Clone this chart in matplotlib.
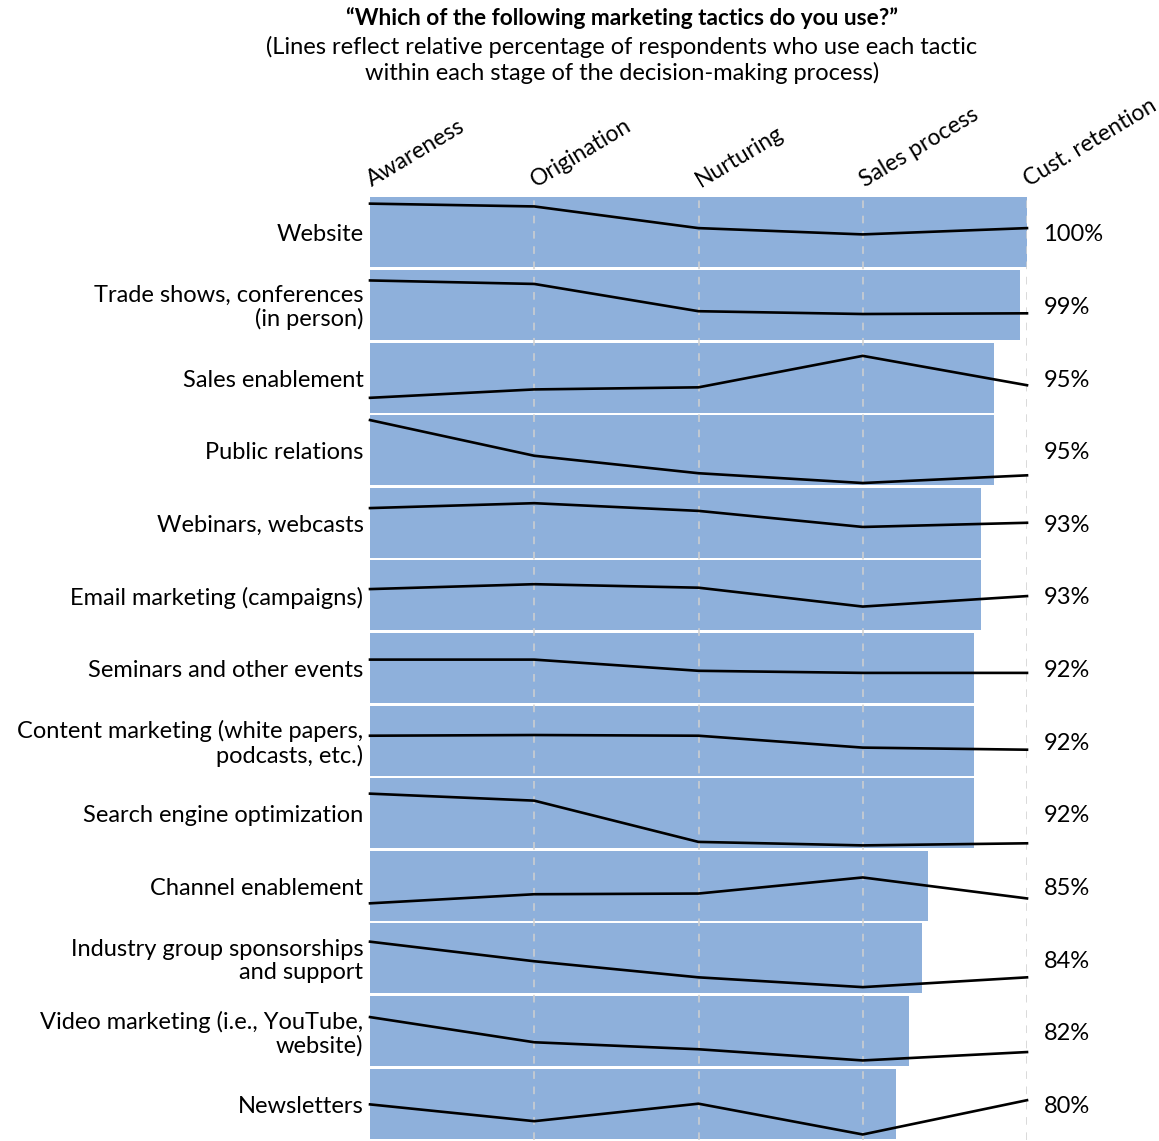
import matplotlib.pyplot as plt

tactics = ["Website",
           "Trade shows, conferences\n(in person)",
           "Sales enablement",
           "Public relations",
           "Webinars, webcasts",
           "Email marketing (campaigns)",
           "Seminars and other events",
           "Content marketing (white papers,\npodcasts, etc.)",
           "Search engine optimization",
           "Channel enablement",
           "Industry group sponsorships\nand support",
           "Video marketing (i.e., YouTube,\nwebsite)",
           "Newsletters"]

usage_pct = [100, 99, 95, 95, 93, 93, 92, 92, 92, 85, 84, 82, 80]

stages = ["Awareness", "Origination", "Nurturing", "Sales process", "Cust. retention"]
stage_pos = [0, 25, 50, 75, 100]

# relative level of each tactic per stage (0 = bottom of its band, 1 = top)
aware = [0.91, 0.85, 0.21, 0.93, 0.71, 0.59, 0.62, 0.57, 0.78, 0.25, 0.74, 0.70, 0.49]
origin = [0.87, 0.80, 0.33, 0.42, 0.78, 0.66, 0.62, 0.58, 0.68, 0.38, 0.46, 0.34, 0.25]
nurture = [0.56, 0.41, 0.36, 0.17, 0.67, 0.61, 0.46, 0.57, 0.09, 0.39, 0.23, 0.24, 0.50]
sales = [0.47, 0.37, 0.81, 0.03, 0.44, 0.34, 0.43, 0.40, 0.04, 0.62, 0.09, 0.08, 0.06]
retain = [0.56, 0.38, 0.39, 0.14, 0.50, 0.49, 0.43, 0.37, 0.07, 0.32, 0.23, 0.20, 0.55]

plt.rcParams['font.family'] = ['Lato', 'DejaVu Sans']

fig = plt.figure(figsize=(11.59, 11.41), dpi=100)
ax = fig.add_axes([370/1159, 1 - 1140/1141, 657/1159, 944/1141])

bar_h = 0.963
n = len(tactics)
ax.barh(range(n), usage_pct, height=bar_h, left=0, color='#8eb0db', zorder=1)

for x in stage_pos[1:]:
    ax.axvline(x, color='#d0d0d0', lw=1.1, ls=(0, (5, 5)), zorder=2)

for i in range(n):
    levels = [aware[i], origin[i], nurture[i], sales[i], retain[i]]
    ys = [i + bar_h/2 - v*bar_h for v in levels]
    ax.plot(stage_pos, ys, color='black', lw=1.9, zorder=3, clip_on=False,
            solid_joinstyle='miter')
    ax.text(-1.0, i + 0.035, tactics[i], ha='right', va='center', fontsize=17,
            linespacing=1.15)
    ax.text(102.5, i + 0.035, f"{usage_pct[i]}%", ha='left', va='center', fontsize=17)

for x, s in zip(stage_pos, stages):
    ax.text(x + 0.3, -0.62, s, rotation=31, rotation_mode='anchor',
            ha='left', va='baseline', fontsize=16.5)

ax.set_xlim(0, 100)
ax.set_ylim(n - 0.5, -0.5)
ax.axis('off')

fig.text(622/1159, 1 - 18/1141, "\u201cWhich of the following marketing tactics do you use?\u201d",
         ha='center', va='center', fontsize=16.3, fontweight='bold')
fig.text(622/1159, 1 - 60/1141,
         "(Lines reflect relative percentage of respondents who use each tactic\n"
         "within each stage of the decision-making process)",
         ha='center', va='center', fontsize=17, linespacing=1.25)

fig.savefig('out.png', dpi=100)
